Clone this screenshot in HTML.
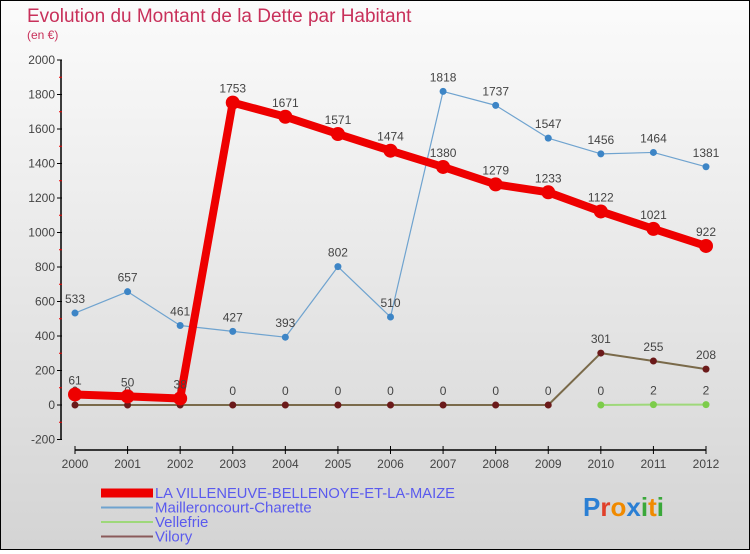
<!DOCTYPE html>
<html><head><meta charset="utf-8"><style>
html,body{margin:0;padding:0}
body{width:750px;height:550px;overflow:hidden;font-family:"Liberation Sans",sans-serif}
#wrap{position:relative;width:748px;height:548px;border:1px solid #000;background:linear-gradient(#fbfbfb,#d4d4d4)}
</style></head><body>
<div id="wrap">
<svg id="chart" width="748" height="548"></svg>
</div>
<script>
const years=["2000","2001","2002","2003","2004","2005","2006","2007","2008","2009","2010","2011","2012"];
const yTicks=[-200,0,200,400,600,800,1000,1200,1400,1600,1800,2000];
const villeneuve=[61,50,38,1753,1671,1571,1474,1380,1279,1233,1122,1021,922];
const mailleroncourt=[533,657,461,427,393,802,510,1818,1737,1547,1456,1464,1381];
const vellefrie=[null,null,null,null,null,null,null,null,null,null,0,2,2];
const vilory=[0,0,0,0,0,0,0,0,0,0,301,255,208];
const NS="http://www.w3.org/2000/svg";
const svg=document.getElementById('chart');
function X(i){return 74+i*(705-74)/12;}
function Y(v){return 404-v*(404-59)/2000;}
function el(t,a,p){const e=document.createElementNS(NS,t);for(const k in a)e.setAttribute(k,a[k]);(p||svg).appendChild(e);return e;}
function txt(x,y,s,o){const e=el('text',Object.assign({x:x,y:y,'font-size':12,fill:'#444'},o||{}));e.textContent=s;return e;}
let t=txt(26,21,"Evolution du Montant de la Dette par Habitant",{'font-size':19,fill:'#c8305a'});


t=txt(26,38,"(en €)",{'font-size':12,fill:'#c8305a'});


// axes
let a=el('line',{x1:60,y1:59,x2:60,y2:439,stroke:'#000','stroke-width':1.5});


a=el('line',{x1:74,y1:449,x2:705,y2:449,stroke:'#000','stroke-width':1.5});


yTicks.forEach(v=>{
  el('line',{x1:56,y1:Y(v),x2:61,y2:Y(v),stroke:'#000'});
  const l=txt(54,Y(v)+4,String(v),{'text-anchor':'end'});
  
  
  if(v<2000) el('line',{x1:58,y1:Y(v+100),x2:61,y2:Y(v+100),stroke:'#e00'});
});
years.forEach((y,i)=>{
  el('line',{x1:X(i),y1:445,x2:X(i),y2:453,stroke:'#000'});
  const l=txt(X(i),467,y,{'text-anchor':'middle'});
  
  
});
function series(vals,color,w,r,dot,name,labels){
  const g=el('g',{});
  
  
  let d='';vals.forEach((v,i)=>{if(v===null)return;d+=(d?'L':'M')+X(i)+' '+Y(v);});
  el('path',{d:d,fill:'none',stroke:color,'stroke-width':w,'stroke-linejoin':'round'},g);
  vals.forEach((v,i)=>{if(v===null)return;
    const c=el('circle',{cx:X(i),cy:Y(v),r:r,fill:dot},g);
    
    
    if(labels){const l=txt(X(i),Y(v)-10,String(v),{'text-anchor':'middle'},g);
      
      }
  });
}
series(mailleroncourt,'#6fa3cf',1.2,3.5,'#3d85c6','series-mailleroncourt',true);
series(vellefrie,'#9ed87a',2,3.5,'#7ccc4a','series-vellefrie',true);
series(vilory,'#7a6a4a',2,3.5,'#6b1a1a','series-vilory',true);
// vilory 2009-2010 segment thin red-brown
series(villeneuve,'#ee0000',8,7,'#ee0000','series-villeneuve',true);
// legend
const leg=[["LA VILLENEUVE-BELLENOYE-ET-LA-MAIZE",'#ee0000',9],["Mailleroncourt-Charette",'#6fa3cf',2],["Vellefrie",'#9ed87a',2],["Vilory",'#8a5a5a',2]];
leg.forEach((l,i)=>{
  const g=el('g',{});
  
  
  const y=492+i*14.5;
  el('line',{x1:100,y1:y,x2:152,y2:y,stroke:l[1],'stroke-width':l[2]},g);
  txt(154,y+5,l[0],{'font-size':15,fill:'#5a5aee',textLength:l[0].length>30?300:0}.textLength?{'font-size':15,fill:'#5a5aee',textLength:300,lengthAdjust:'spacingAndGlyphs'}:{'font-size':15,fill:'#5a5aee'},g);
});
const lg=el('text',{x:582,y:515,'font-size':26,'font-weight':'bold'});


[["P","#2a7fd4"],["r","#e0402a"],["o","#f08a00"],["x","#2a7fd4"],["i","#3aa83a"],["t","#f08a00"],["i","#3aa83a"]].forEach(c=>{const s=el('tspan',{fill:c[1]},lg);s.textContent=c[0];});
</script>
</body></html>
